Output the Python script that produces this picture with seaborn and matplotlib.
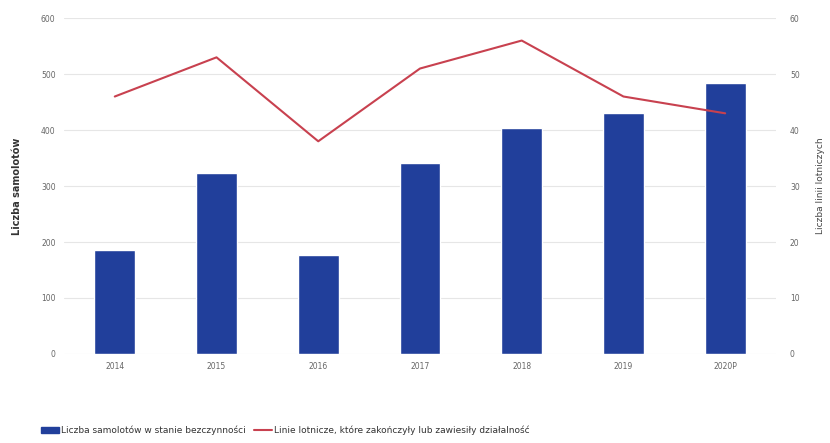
import numpy as np
import pandas as pd
import matplotlib
matplotlib.use("Agg")
import matplotlib.pyplot as plt
import seaborn as sns
from matplotlib.patches import Patch
from matplotlib.lines import Line2D

# data
years = ["2014", "2015", "2016", "2017", "2018", "2019", "2020P"]
idle_planes = [186, 323, 177, 341, 404, 430, 484]
airlines_closed = [46, 53, 38, 51, 56, 46, 43]

bar_color = "#213f9b"
line_color = "#c8414f"
tick_color = "#666666"

sns.set_theme(style="white")
plt.rcParams["font.family"] = ["DejaVu Sans"]

df = pd.DataFrame({"year": years, "planes": idle_planes, "airlines": airlines_closed})
df["pos"] = np.arange(len(df))

fig = plt.figure(figsize=(8.3, 4.43), dpi=100)
ax = fig.add_axes([0.077, 0.201, 0.858, 0.758])

sns.barplot(data=df, x="year", y="planes", color=bar_color, width=0.4,
            saturation=1, ax=ax, zorder=3)
ax.set_ylim(0, 600)
ax.set_yticks(np.arange(0, 601, 100))
ax.yaxis.grid(True, color="#e6e6e6", linewidth=0.8, zorder=0)
ax.set_axisbelow(True)
ax.set_xlabel("")
ax.set_ylabel("Liczba samolotów", fontsize=7, fontweight="bold", color="#333333",
              labelpad=14)
ax.tick_params(axis="both", labelsize=5.5, colors=tick_color, length=0, pad=6)
for s in ax.spines.values():
    s.set_visible(False)

ax2 = ax.twinx()
sns.lineplot(data=df, x="pos", y="airlines", color=line_color, linewidth=1.5,
             ax=ax2, sort=False)
ax2.set_ylim(0, 60)
ax2.set_yticks(np.arange(0, 61, 10))
ax2.set_ylabel("Liczba linii lotniczych", fontsize=6.5, color="#444444", labelpad=12)
ax2.tick_params(axis="y", labelsize=5.5, colors=tick_color, length=0, pad=10)
ax2.grid(False)
for s in ax2.spines.values():
    s.set_visible(False)
ax.set_xlim(-0.5, len(years) - 0.5)

handles = [
    Patch(facecolor=bar_color, edgecolor=bar_color),
    Line2D([0], [0], color=line_color, linewidth=1.5),
]
labels = [
    "Liczba samolotów w stanie bezczynności",
    "Linie lotnicze, które zakończyły lub zawiesiły działalność",
]
fig.legend(handles, labels, loc="lower left", bbox_to_anchor=(0.04, 0.0),
           ncol=2, frameon=False, fontsize=6.5, handlelength=2.0,
           handletextpad=0.2, columnspacing=0.9, labelcolor="#333333")

fig.savefig("out.png", dpi=100)
